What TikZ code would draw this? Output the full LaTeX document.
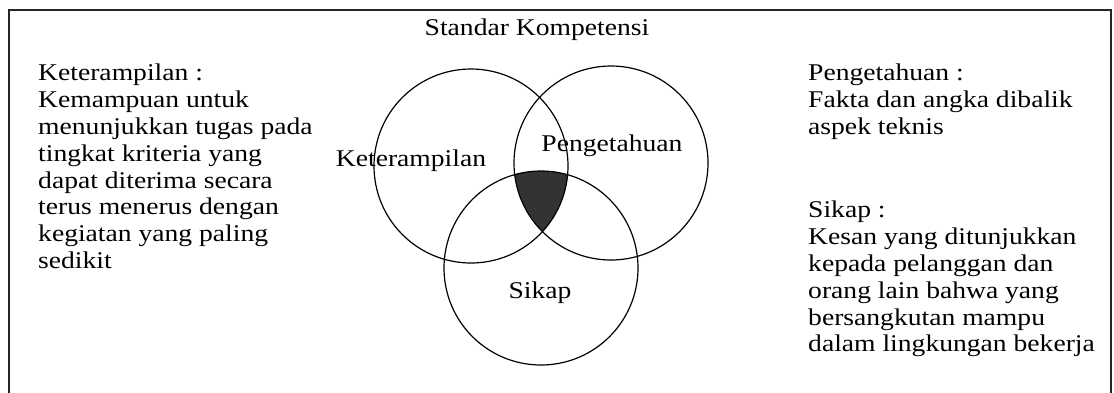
\documentclass[tikz,border=0pt]{standalone}
\usepackage{fontspec}
\setmainfont{Liberation Serif}[FakeStretch=1.15]
\begin{document}
\begin{tikzpicture}[x=1pt,y=-1pt,
  txt/.style={font=\fontsize{24}{26.8}\selectfont,inner sep=0pt,align=left,anchor=north west},
  lbl/.style={font=\fontsize{24}{26.8}\selectfont,inner sep=0pt,anchor=base},
  venn/.style={draw=black,line width=1.2pt},
  frame/.style={draw=black!85,line width=2.5pt}]
\useasboundingbox (0,0) rectangle (1114,392);
\fill[white] (0,0) rectangle (1114,392);
% frame
\coordinate (fbl) at (9,420);
\coordinate (ftl) at (9,10);
\coordinate (ftr) at (1111,10);
\coordinate (fbr) at (1111,420);
\draw[frame] (fbl) -- (ftl) -- (ftr) -- (fbr);
% circle centres
\coordinate (cK) at (471,166);
\coordinate (cP) at (611,163);
\coordinate (cS) at (541,268);
% shaded common part
\begin{scope}
  \clip (cK) circle[radius=97];
  \clip (cP) circle[radius=97];
  \fill[black!80] (cS) circle[radius=97];
\end{scope}
\draw[venn] (cK) circle[radius=97];
\draw[venn] (cP) circle[radius=97];
\draw[venn] (cS) circle[radius=97];
% labels
\node[lbl] (title) at (537,35) {Standar Kompetensi};
\node[lbl] (lK) at (411,166) {Keterampilan};
\node[lbl] (lP) at (612,151) {Pengetahuan};
\node[lbl] (lS) at (540,298) {Sikap};
% text blocks
\node[txt] (tK) at (38,64) {Keterampilan :\\Kemampuan untuk\\menunjukkan tugas pada\\tingkat kriteria yang\\dapat diterima secara\\terus menerus dengan\\kegiatan yang paling\\sedikit};
\node[txt] (tP) at (808,64) {Pengetahuan :\\Fakta dan angka dibalik\\aspek teknis};
\node[txt] (tS) at (808,201) {Sikap :\\Kesan yang ditunjukkan\\kepada pelanggan dan\\orang lain bahwa yang\\bersangkutan mampu\\dalam lingkungan bekerja};
\end{tikzpicture}
\end{document}
